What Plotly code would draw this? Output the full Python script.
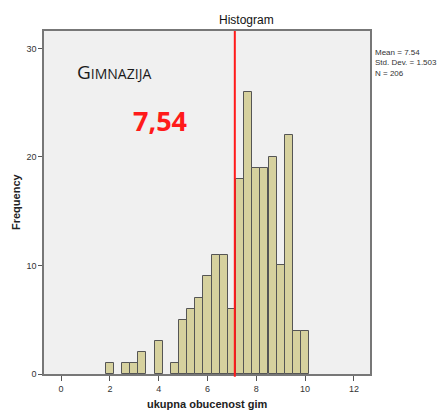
import plotly.graph_objects as go

# Histogram bins (centers) and frequencies
bin_centers = [2.0, 2.667, 3.0, 3.333, 4.0, 4.667, 5.0, 5.333, 5.667, 6.0, 6.333, 6.667,
               7.0, 7.333, 7.667, 8.0, 8.333, 8.667, 9.0, 9.333, 9.667, 10.0]
frequencies = [1, 1, 1, 2, 3, 1, 5, 6, 7, 9, 11, 11,
               6, 18, 26, 19, 19, 20, 10, 22, 4, 4]
bin_width = 1 / 3
x_ticks = [0, 2, 4, 6, 8, 10, 12]
y_ticks = [0, 10, 20, 30]
marker_line_x = 7.12
stats_lines = ["Mean = 7.54", "Std. Dev. = 1.503", "N = 206"]

L, R, T, B = 44, 370, 31, 374
PW, PH = R - L, B - T

def px(x):
    return (x - L) / PW

def py(y):
    return (B - y) / PH

fig = go.Figure()
fig.add_trace(go.Bar(
    x=bin_centers, y=frequencies, width=[bin_width] * len(bin_centers),
    marker=dict(color="#d6d19e", line=dict(color="#555555", width=1)),
    hoverinfo="x+y", showlegend=False,
))

fig.add_shape(type="line", xref="x", yref="paper", x0=marker_line_x, x1=marker_line_x,
              y0=-0.008, y1=1, line=dict(color="#ff1a1a", width=2))

font_axis = dict(family="Liberation Sans, Arial", size=9, color="#333333")
title_font = dict(family="Liberation Sans, Arial", size=11, color="#222222")

fig.update_layout(
    width=443, height=411,
    margin=dict(l=L, r=443 - R, t=T, b=411 - B, autoexpand=False),
    paper_bgcolor="white", plot_bgcolor="#f0f0f0",
    bargap=0,
    xaxis=dict(range=[-0.7, 12.66], tickvals=x_ticks, ticks="outside", ticklen=5,
               tickcolor="#555555", showline=True, linecolor="#777777", linewidth=1.5,
               mirror=True, showgrid=False, zeroline=False, tickfont=font_axis,
               automargin=False),
    yaxis=dict(range=[0, 31.6], tickvals=y_ticks, ticks="outside", ticklen=4,
               tickcolor="#555555", showline=True, linecolor="#777777", linewidth=1.5,
               mirror=True, showgrid=False, zeroline=False, tickfont=font_axis,
               automargin=False),
    annotations=[
        dict(text="Histogram", xref="paper", yref="paper", x=px(246.5), y=py(20),
             yanchor="middle", xanchor="center", showarrow=False,
             font=dict(family="Liberation Sans, Arial", size=12, color="#111111")),
        dict(text="<b>ukupna obucenost gim</b>", xref="paper", yref="paper", x=px(207), y=py(404),
             yanchor="middle", xanchor="center", showarrow=False, font=title_font),
        dict(text="<b>Frequency</b>", xref="paper", yref="paper", x=px(16), y=py(202),
             yanchor="middle", xanchor="center", showarrow=False, textangle=-90, font=title_font),
        dict(text="<br>".join(stats_lines), xref="paper", yref="paper", x=px(373), y=py(46),
             xanchor="left", yanchor="top", align="left", showarrow=False,
             font=dict(family="Liberation Sans Narrow, Liberation Sans, Arial", size=8, color="#333333")),
        dict(text="G<span style='font-size:14px'>IMNAZIJA</span>", xref="paper", yref="paper",
             x=px(75), y=py(72), xanchor="left", yanchor="middle",
             showarrow=False,
             font=dict(family="Open Sans, Noto Sans", size=19, color="#1a1a1a")),
        dict(text="<b>7,54</b>", xref="paper", yref="paper",
             x=px(160), y=py(121), xanchor="center", yanchor="middle",
             showarrow=False,
             font=dict(family="Open Sans, Noto Sans", size=27, color="#ff1a1a")),
    ],
)

fig.write_html("out.html", config={"displayModeBar": False},
               post_script="document.body.style.margin='0';document.body.style.overflow='hidden';")
